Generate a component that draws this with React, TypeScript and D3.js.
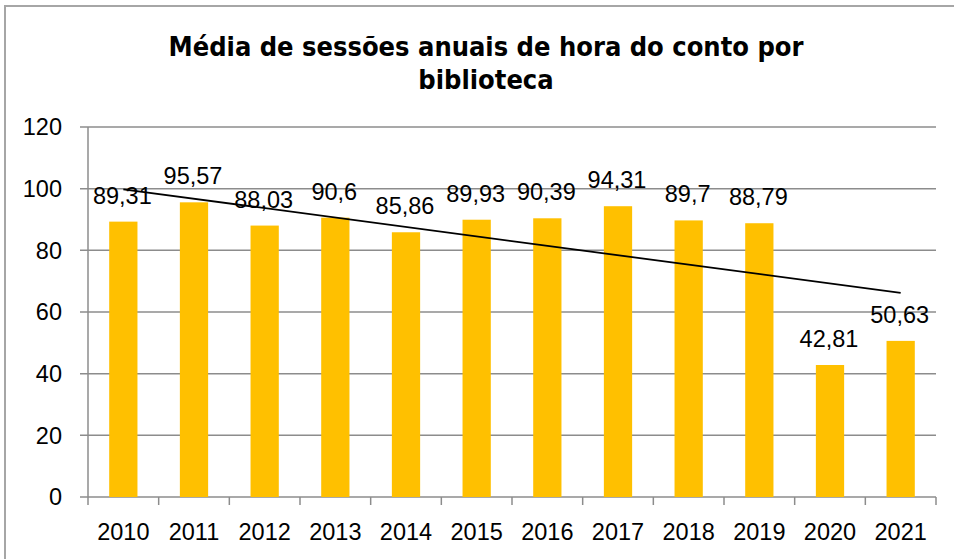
import React, { useRef, useEffect } from 'react';
import * as d3 from 'd3';

const years = ['2010', '2011', '2012', '2013', '2014', '2015', '2016', '2017', '2018', '2019', '2020', '2021'];
const sessions = [89.31, 95.57, 88.03, 90.6, 85.86, 89.93, 90.39, 94.31, 89.7, 88.79, 42.81, 50.63];
const yTicks = [0, 20, 40, 60, 80, 100, 120];
const titleLines = ['Média de sessões anuais de hora do conto por', 'biblioteca'];

const App = () => {
  const chartRef = useRef<SVGSVGElement>(null);

  useEffect(() => {
    const svg = d3.select(chartRef.current);
    svg.selectAll('*').remove();

    const width = 954;
    const height = 559;
    const margin = { top: 127, right: 18, bottom: 62, left: 88 };
    const font = '"Liberation Sans", Arial, sans-serif';
    const fontSize = 23.5;
    const grid = '#8c8c8c';

    // borde del gráfico
    svg.append('rect')
      .attr('x', 5).attr('y', 6)
      .attr('width', width + 10).attr('height', height + 10)
      .attr('fill', 'white')
      .attr('stroke', '#a6a6a6')
      .attr('stroke-width', 2);

    const x = d3.scaleBand<string>()
      .domain(years)
      .range([margin.left, width - margin.right])
      .paddingInner(0.6)
      .paddingOuter(0.3);

    const xLines = d3.scaleBand<string>()
      .domain(years)
      .range([margin.left, width - margin.right]);

    const y = d3.scaleLinear()
      .domain([0, 120])
      .range([height - margin.bottom, margin.top]);

    // líneas de cuadrícula
    svg.append('g')
      .selectAll('line')
      .data(yTicks)
      .enter()
      .append('line')
      .attr('x1', margin.left - 8)
      .attr('x2', width - margin.right)
      .attr('y1', d => y(d))
      .attr('y2', d => y(d))
      .attr('stroke', grid)
      .attr('stroke-width', 1.5);

    svg.append('g')
      .selectAll('text')
      .data(yTicks)
      .enter()
      .append('text')
      .attr('x', margin.left - 26)
      .attr('y', d => y(d))
      .attr('dy', '0.36em')
      .attr('text-anchor', 'end')
      .attr('font-family', font)
      .attr('font-size', fontSize)
      .text(d => d);

    // eje vertical
    svg.append('line')
      .attr('x1', margin.left).attr('x2', margin.left)
      .attr('y1', y(120)).attr('y2', y(0))
      .attr('stroke', grid).attr('stroke-width', 1.5);

    // marcas del eje x
    const edges = years.map(d => xLines(d) as number).concat([width - margin.right]);
    svg.append('g')
      .selectAll('line')
      .data(edges)
      .enter()
      .append('line')
      .attr('x1', d => d).attr('x2', d => d)
      .attr('y1', y(0)).attr('y2', y(0) + 8)
      .attr('stroke', grid).attr('stroke-width', 1.5);

    svg.append('g')
      .selectAll('text')
      .data(years)
      .enter()
      .append('text')
      .attr('x', d => (xLines(d) as number) + xLines.bandwidth() / 2)
      .attr('y', y(0) + 43)
      .attr('text-anchor', 'middle')
      .attr('font-family', font)
      .attr('font-size', fontSize)
      .text(d => d);

    // barras
    svg.append('g')
      .selectAll('rect')
      .data(sessions)
      .enter()
      .append('rect')
      .attr('x', (d, i) => x(years[i]) as number)
      .attr('y', d => y(d))
      .attr('width', x.bandwidth())
      .attr('height', d => y(0) - y(d))
      .attr('fill', '#ffc000');

    // línea de tendencia (regresión lineal)
    const n = sessions.length;
    const xs = sessions.map((d, i) => i + 1);
    const mx = d3.mean(xs) as number;
    const my = d3.mean(sessions) as number;
    const slope = d3.sum(xs, (v, i) => (v - mx) * (sessions[i] - my)) / d3.sum(xs, v => (v - mx) ** 2);
    const cx = (i: number) => (x(years[i]) as number) + x.bandwidth() / 2;
    svg.append('line')
      .attr('x1', cx(0)).attr('y1', y(my + slope * (1 - mx)))
      .attr('x2', cx(n - 1)).attr('y2', y(my + slope * (n - mx)))
      .attr('stroke', 'black')
      .attr('stroke-width', 1.8);

    // etiquetas de valores
    svg.append('g')
      .selectAll('text')
      .data(sessions)
      .enter()
      .append('text')
      .attr('x', (d, i) => cx(i) - 1)
      .attr('y', d => y(d) - 18)
      .attr('text-anchor', 'middle')
      .attr('font-family', font)
      .attr('font-size', fontSize)
      .text(d => String(d).replace('.', ','));

    // título
    svg.append('g')
      .selectAll('text')
      .data(titleLines)
      .enter()
      .append('text')
      .attr('x', 486)
      .attr('y', (d, i) => 56 + i * 33)
      .attr('text-anchor', 'middle')
      .attr('font-family', '"DejaVu Sans Condensed", "DejaVu Sans", sans-serif')
      .attr('font-weight', 'bold')
      .attr('font-size', 27)
      .text(d => d);
  }, []);

  return (
    <svg
      ref={chartRef}
      width={954}
      height={559}
      style={{ position: 'absolute', left: 0, top: 0 }}
    />
  );
};

export default App;
